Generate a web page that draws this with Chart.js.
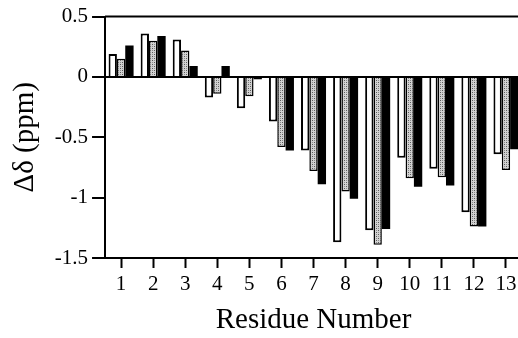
<!DOCTYPE html>
<html>
<head>
<meta charset="utf-8">
<script src="https://cdn.jsdelivr.net/npm/chart.js@4"></script>
<style>
  html, body { margin: 0; padding: 0; background: #fff; overflow: hidden; }
  #wrap { width: 526px; height: 338px; }
</style>
</head>
<body>
<div id="wrap"><canvas id="myChart"></canvas></div>
<script>
// residue numbers along the x axis
const residues = ["1", "2", "3", "4", "5", "6", "7", "8", "9", "10", "11", "12", "13"];

// chemical shift differences (ppm), one array per bar series
const whiteSeries = [0.19, 0.36, 0.31, -0.17, -0.26, -0.37, -0.61, -1.37, -1.27, -0.67, -0.76, -1.12, -0.64];
const graySeries = [0.15, 0.30, 0.22, -0.14, -0.16, -0.58, -0.78, -0.95, -1.39, -0.84, -0.83, -1.24, -0.77];
const blackSeries = [0.26, 0.34, 0.09, 0.09, -0.02, -0.61, -0.89, -1.01, -1.26, -0.91, -0.90, -1.24, -0.60];

const yTicks = [0.5, 0, -0.5, -1, -1.5];

// stippled grey fill like the printed figure
function stipple() {
  const c = document.createElement("canvas");
  c.width = 4;
  c.height = 4;
  const g = c.getContext("2d");
  g.fillStyle = "#d2d2d2";
  g.fillRect(0, 0, 4, 4);
  g.fillStyle = "#5a5a5a";
  g.fillRect(0, 0, 1, 1);
  g.fillRect(2, 2, 1, 1);
  g.fillStyle = "#8c8c8c";
  g.fillRect(2, 0, 1, 1);
  g.fillRect(0, 2, 1, 1);
  return g.createPattern(c, "repeat");
}

// top edge of the plot frame
const topFrame = {
  id: "topFrame",
  afterDraw(chart) {
    const { ctx, chartArea } = chart;
    ctx.save();
    ctx.strokeStyle = "#000";
    ctx.lineWidth = 2;
    ctx.beginPath();
    ctx.moveTo(chartArea.left, chartArea.top);
    ctx.lineTo(chartArea.right, chartArea.top);
    ctx.stroke();
    ctx.restore();
  },
};

const serif = "'Liberation Serif', 'Times New Roman', serif";
const ctx = document.getElementById("myChart");

new Chart(ctx, {
  type: "bar",
  data: {
    labels: residues,
    datasets: [
      {
        data: whiteSeries,
        backgroundColor: "#fff",
        borderColor: "#000",
        borderWidth: 2,
      },
      {
        data: graySeries,
        backgroundColor: stipple(),
        borderColor: "#000",
        borderWidth: 1.5,
      },
      {
        data: blackSeries,
        backgroundColor: "#000",
        borderColor: "#000",
        borderWidth: 0,
      },
    ],
  },
  options: {
    responsive: true,
    maintainAspectRatio: false,
    animation: false,
    categoryPercentage: 0.78,
    barPercentage: 1.0,
    layout: { padding: { left: 8, top: 9, right: 4, bottom: 0 } },
    scales: {
      x: {
        grid: {
          offset: false,
          color: "transparent",
          tickColor: "#000",
          tickLength: 10,
          tickWidth: 2,
        },
        border: { color: "#000", width: 2 },
        ticks: {
          color: "#000",
          font: { family: serif, size: 21 },
          padding: 4,
          maxRotation: 0,
        },
        title: {
          display: true,
          text: "Residue Number",
          color: "#000",
          font: { family: serif, size: 29 },
          padding: { top: 2, bottom: 0 },
        },
      },
      y: {
        min: -1.5,
        max: 0.5,
        afterBuildTicks: (axis) => {
          axis.ticks = yTicks.map((v) => ({ value: v }));
        },
        grid: {
          color: (c) => (c.tick && c.tick.value === 0 ? "#000" : "transparent"),
          lineWidth: 2,
          tickColor: "#000",
          tickLength: 13,
          tickWidth: 2,
        },
        border: { color: "#000", width: 2 },
        ticks: {
          color: "#000",
          font: { family: serif, size: 21 },
          padding: 4,
          callback: (v) => String(v),
        },
        title: {
          display: true,
          text: "Δδ (ppm)",
          color: "#000",
          font: { family: serif, size: 29 },
          padding: { top: 0, bottom: 8 },
        },
      },
    },
    plugins: {
      legend: { display: false },
      tooltip: { enabled: false },
    },
  },
  plugins: [topFrame],
});
</script>
</body>
</html>
